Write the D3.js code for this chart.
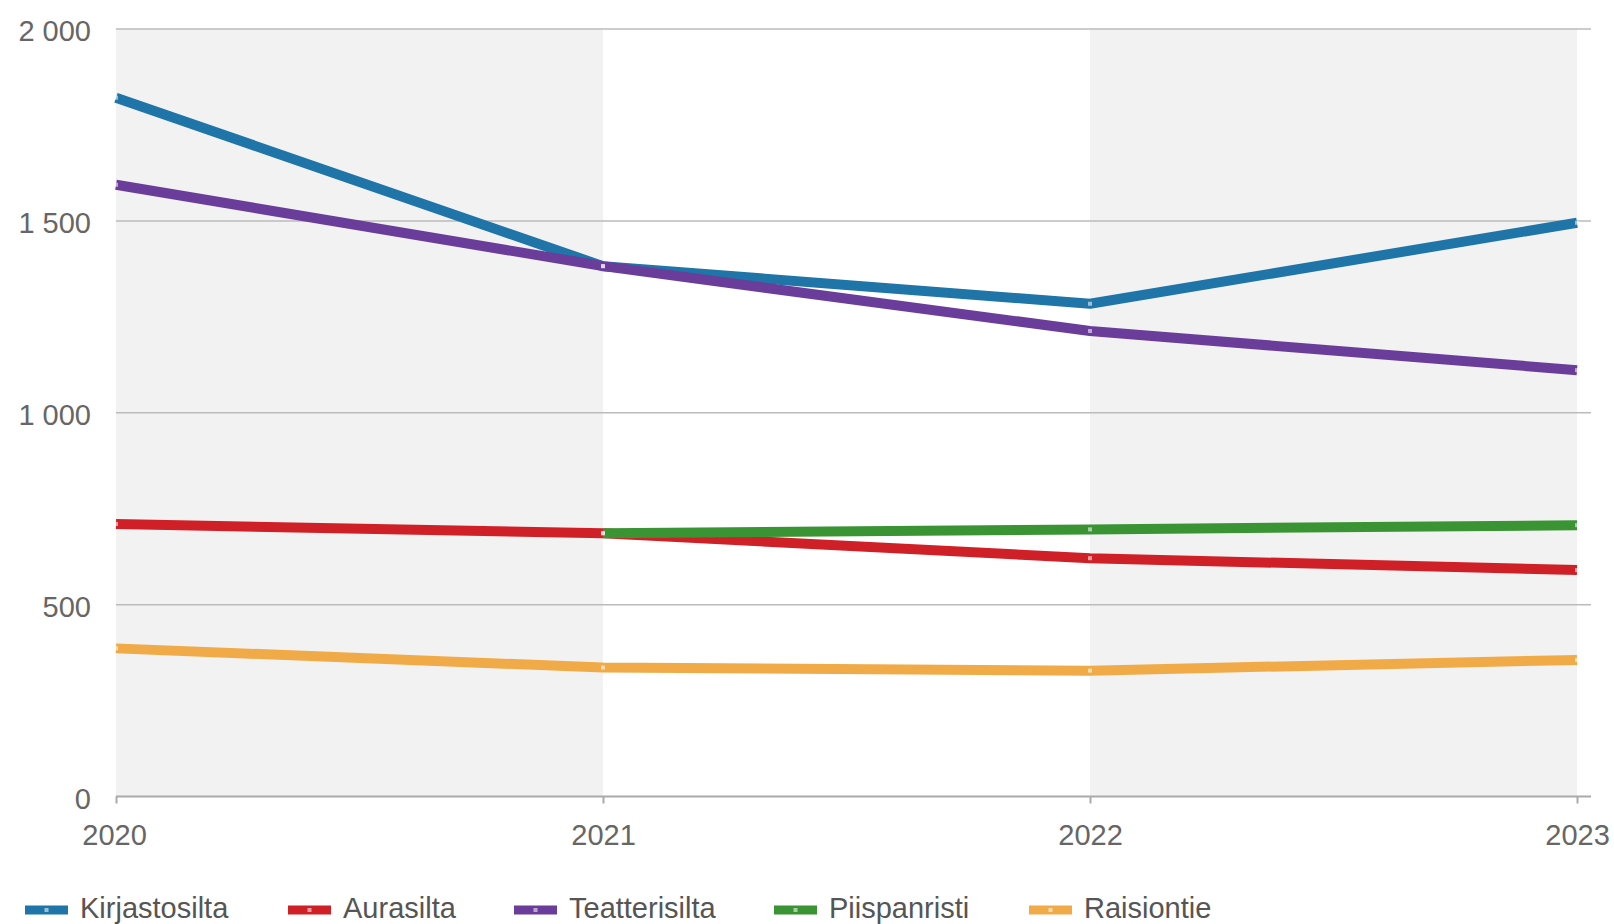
<!DOCTYPE html>
<html>
<head>
<meta charset="utf-8">
<script src="https://cdn.jsdelivr.net/npm/d3@7"></script>
<style>
  html, body { margin: 0; padding: 0; background: #fff; }
  svg { display: block; font-family: "Liberation Sans", Arial, sans-serif; }
</style>
</head>
<body>
<svg id="chart" width="1614" height="924"></svg>
<script>
const years = [2020, 2021, 2022, 2023];
const yTicks = [0, 500, 1000, 1500, 2000];
const seriesNames = ["Kirjastosilta", "Aurasilta", "Teatterisilta", "Piispanristi", "Raisiontie"];
const seriesColors = ["#1f74a8", "#cf2027", "#6a3d9a", "#3a9434", "#f0ab48"];
const kirjastosilta = [1821, 1382, 1284, 1495];
const aurasilta = [710, 686, 621, 590];
const teatterisilta = [1594, 1382, 1213, 1111];
const piispanristi = [null, 686, 696, 707];
const raisiontie = [386, 336, 328, 356];
const seriesValues = [kirjastosilta, aurasilta, teatterisilta, piispanristi, raisiontie];

(function () {
const svg = d3.select("#chart");
const pLeft = 116, pRight = 1577, pTop = 29, pBottom = 796.5, gridEnd = 1591;
const fs = 29;

const x = d3.scalePoint().domain(years).range([pLeft, pRight]);
const y = d3.scaleLinear().domain([0, 2000]).range([pBottom, pTop]);

// alternating bands
for (let i = 0; i < years.length - 1; i += 2) {
  svg.append("rect")
    .attr("x", x(years[i])).attr("y", pTop)
    .attr("width", x(years[i + 1]) - x(years[i]))
    .attr("height", pBottom - pTop)
    .attr("fill", "#f2f2f2");
}

// gridlines
svg.append("g").selectAll("line").data(yTicks.filter(d => d > 0)).join("line")
  .attr("x1", pLeft).attr("x2", gridEnd)
  .attr("y1", d => y(d)).attr("y2", d => y(d))
  .attr("stroke", "#bbbbbb").attr("stroke-width", 1.5);

// y labels
const fmt = v => d3.format(",")(v).replace(/,/g, " ");
svg.append("g").selectAll("text").data(yTicks).join("text")
  .attr("x", 91).attr("y", d => y(d) + 2)
  .attr("dy", "0.35em")
  .attr("text-anchor", "end")
  .attr("font-size", fs)
  .attr("fill", "#666")
  .text(d => fmt(d));

// x axis
const xAxis = d3.axisBottom(x).tickSize(7).tickSizeOuter(0).tickFormat(d => String(d));
const gx = svg.append("g").attr("transform", `translate(0,${pBottom})`).call(xAxis);
gx.select(".domain").attr("d", `M${pLeft},0H${gridEnd}`).attr("stroke", "#aaaaaa").attr("stroke-width", 2);
gx.selectAll(".tick line").attr("stroke", "#aaaaaa").attr("stroke-width", 2);
gx.selectAll(".tick text")
  .attr("font-size", fs)
  .attr("font-family", "Liberation Sans, Arial, sans-serif")
  .attr("fill", "#666")
  .attr("y", 28);
gx.selectAll(".tick").filter(d => d === 2020).select("text").attr("dx", -2);

// lines
const line = d3.line()
  .defined(d => d.v !== null)
  .x(d => x(d.year))
  .y(d => y(d.v));

const g = svg.append("g");
seriesValues.forEach((vals, i) => {
  const pts = years.map((yr, j) => ({ year: yr, v: vals[j] }));
  g.append("path")
    .datum(pts)
    .attr("d", line)
    .attr("fill", "none")
    .attr("stroke", seriesColors[i])
    .attr("stroke-width", 10)
    .attr("stroke-linejoin", "round")
    .attr("stroke-linecap", "butt");
});
// point markers
seriesValues.forEach((vals, i) => {
  const pts = years.map((yr, j) => ({ year: yr, v: vals[j] })).filter(d => d.v !== null);
  g.append("g").selectAll("rect").data(pts).join("rect")
    .attr("x", d => x(d.year) - 2).attr("y", d => y(d.v) - 2)
    .attr("width", 4).attr("height", 4)
    .attr("fill", "#fff").attr("opacity", 0.55);
});

// legend
const legendX = [25, 288, 514, 774, 1029];
const lg = svg.append("g");
seriesNames.forEach((name, i) => {
  const gi = lg.append("g").attr("transform", `translate(${legendX[i]},910)`);
  gi.append("line").attr("x1", 0).attr("x2", 43).attr("y1", 0).attr("y2", 0)
    .attr("stroke", seriesColors[i]).attr("stroke-width", 9).attr("stroke-linecap", "butt");
  gi.append("rect").attr("x", 19.5).attr("y", -2).attr("width", 4).attr("height", 4)
    .attr("fill", "#fff").attr("opacity", 0.55);
  gi.append("text").attr("x", 55).attr("y", -2).attr("dy", "0.35em")
    .attr("font-size", fs).attr("fill", "#555").text(name);
});
})();
</script>
</body>
</html>
